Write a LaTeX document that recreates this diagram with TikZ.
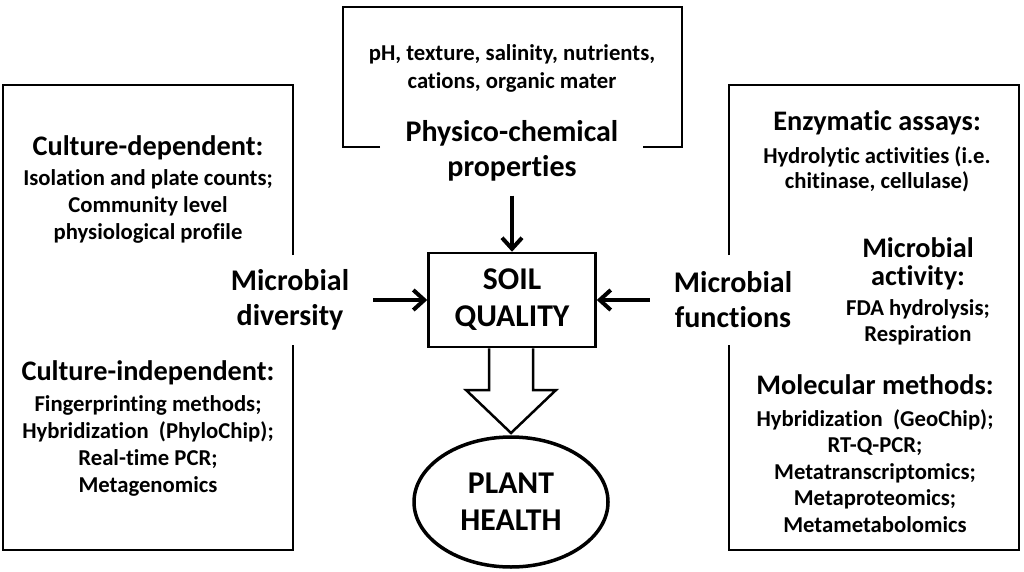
\documentclass[tikz,border=0pt]{standalone}
\usepackage{fontspec}
\setmainfont{Carlito}[Ligatures=NoCommon]
\usetikzlibrary{arrows.meta,shapes.geometric}
\begin{document}
\begin{tikzpicture}[x=1pt,y=-1pt,
  box/.style={line width=2.5pt},
  big/.style={font=\bfseries\fontsize{30}{35}\selectfont,align=center,inner sep=0pt},
  head/.style={font=\bfseries\fontsize{28.3}{28.5}\selectfont,align=center,inner sep=0pt},
  small/.style={font=\bfseries\fontsize{22.7}{26.5}\selectfont,align=center,inner sep=0pt},
  arr/.style={line width=4pt,-{Straight Barb[length=11pt,width=20pt,line width=4pt]}},
  center/.style={font=\bfseries\fontsize{31.7}{37}\selectfont,align=center,inner sep=0pt}]
\useasboundingbox (0,0) rectangle (1024,572);
% boxes
\draw[box] (293,255) -- (293,85) -- (3,85) -- (3,550) -- (293,550) -- (293,345);
\draw[box] (380,147) -- (343,147) -- (343,7) -- (682,7) -- (682,147) -- (643,147);
\draw[box] (729,255) -- (729,85) -- (1019,85) -- (1019,550) -- (729,550) -- (729,345);
% top box texts
\node[small,font=\bfseries\fontsize{22.7}{28}\selectfont] (phtext) at (512,68) {pH, texture, salinity, nutrients,\\cations, organic mater};
\node[big] (phys) at (512,151) {Physico-chemical\\properties};
% left
\node[head] (cdep) at (148,148) {Culture-dependent:};
\node[small,anchor=north,font=\bfseries\fontsize{22.7}{27}\selectfont] (cdeptext) at (148,169) {Isolation and plate counts;\\Community level\\physiological profile};
\node[big] (divlab) at (290,300) {Microbial\\diversity};
\node[head] (cind) at (148,373) {Culture-independent:};
\node[small,anchor=north,font=\bfseries\fontsize{22.7}{27}\selectfont] (cindtext) at (148,395) {Fingerprinting methods;\\Hybridization\ \ (PhyloChip);\\Real-time PCR;\\Metagenomics};
% right
\node[big] (funlab) at (733,300) {Microbial\\functions};
\node[head] (enz) at (877,123) {Enzymatic assays:};
\node[small,anchor=north,font=\bfseries\fontsize{22.7}{25}\selectfont] (enztext) at (877,146) {Hydrolytic activities (i.e.\\chitinase, cellulase)};
\node[head] (mact) at (918,264) {Microbial\\activity:};
\node[small,anchor=north,font=\bfseries\fontsize{22.7}{26}\selectfont] (macttext) at (918,299) {FDA hydrolysis;\\Respiration};
\node[head] (mol) at (875,385) {Molecular methods:};
\node[small,anchor=north] (moltext) at (875,409) {Hybridization\ \ (GeoChip);\\RT-Q-PCR;\\Metatranscriptomics;\\Metaproteomics;\\Metametabolomics};
% center
\node[box,draw,center,minimum width=167pt,minimum height=94pt] (soil) at (512,300) {SOIL\\QUALITY};
\node[draw,ellipse,line width=3.5pt,center,minimum width=194pt,minimum height=130pt] (plant) at (511,502) {PLANT\\HEALTH};
% arrows
\draw[arr,shorten <=14pt] (phys) -- (soil);
\draw[arr,shorten <=24pt] (divlab) -- (soil);
\draw[arr,shorten <=24pt] (funlab) -- (soil);
\draw[box,line join=miter] (soil.south -| 489,0) -- (489,390) -- (466,390) -- (511,433) -- (556,390) -- (533,390) -- (soil.south -| 533,0);
\end{tikzpicture}
\end{document}
